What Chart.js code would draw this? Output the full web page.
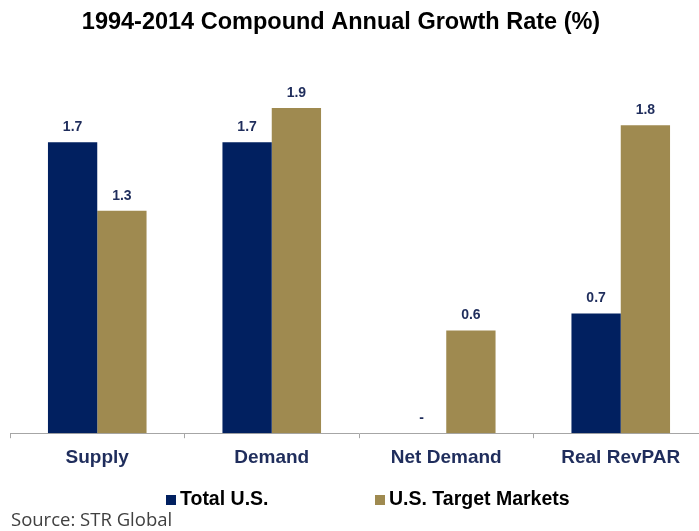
<!DOCTYPE html>
<html>
<head>
<meta charset="utf-8">
<script src="https://cdn.jsdelivr.net/npm/chart.js@4/dist/chart.umd.min.js"></script>
<style>
  html, body { margin: 0; padding: 0; background: #fff; }
  #wrap { width: 699px; height: 531px; overflow: hidden; position: relative; }
  canvas { display: block; }
</style>
</head>
<body>
<div id="wrap"><canvas id="chart" width="708" height="531"></canvas></div>
<script>
const title = "1994-2014 Compound Annual Growth Rate (%)";
const categories = ["Supply", "Demand", "Net Demand", "Real RevPAR"];
const totalUS = [1.7, 1.7, 0, 0.7];
const targetMarkets = [1.3, 1.9, 0.6, 1.8];
const seriesNames = ["Total U.S.", "U.S. Target Markets"];
const source = "Source: STR Global";

const NAVY = "#012060";
const TAN = "#9F8A50";
const FONT = "'Liberation Sans', Arial, sans-serif";

// value labels above each bar, "-" for zero
const barLabels = {
    id: "barLabels",
    afterDatasetsDraw(chart) {
        const ctx = chart.ctx;
        ctx.save();
        ctx.font = "bold 14px " + FONT;
        ctx.fillStyle = "#1F2D5C";
        ctx.textAlign = "center";
        ctx.textBaseline = "middle";
        chart.data.datasets.forEach((ds, i) => {
            chart.getDatasetMeta(i).data.forEach((bar, j) => {
                const v = ds.data[j];
                const text = v === 0 ? "-" : v.toFixed(1);
                ctx.fillText(text, bar.x, bar.y - 15);
            });
        });
        ctx.restore();
    },
};

// title, legend and source note
const decorations = {
    id: "decorations",
    afterDraw(chart) {
        const ctx = chart.ctx;
        ctx.save();
        ctx.textBaseline = "middle";
        ctx.textAlign = "center";
        ctx.fillStyle = "#000";
        ctx.font = "bold 23.5px " + FONT;
        ctx.fillText(title, 341, 23);

        const legendX = [166, 375];
        ctx.textAlign = "left";
        ctx.font = "bold 19.5px " + FONT;
        chart.data.datasets.forEach((ds, i) => {
            ctx.fillStyle = ds.backgroundColor;
            ctx.fillRect(legendX[i], 495, 10, 10);
            ctx.fillStyle = "#000";
            ctx.fillText(ds.label, legendX[i] + 14, 500);
        });

        ctx.fillStyle = "#404040";
        ctx.font = "18.5px 'Open Sans', sans-serif";
        ctx.fillText(source, 11, 521);
        ctx.restore();
    },
};

new Chart(document.getElementById("chart"), {
    type: "bar",
    data: {
        labels: categories,
        datasets: [
            { label: seriesNames[0], data: totalUS, backgroundColor: NAVY },
            { label: seriesNames[1], data: targetMarkets, backgroundColor: TAN },
        ],
    },
    options: {
        responsive: false,
        animation: false,
        devicePixelRatio: 1,
        layout: { padding: { left: 10, right: 0, top: 91, bottom: 54 } },
        datasets: { bar: { categoryPercentage: 0.565, barPercentage: 1 } },
        plugins: {
            legend: { display: false },
            title: { display: false },
            tooltip: { enabled: false },
        },
        scales: {
            x: {
                border: { color: "#A6A6A6", width: 1 },
                grid: { drawOnChartArea: false, drawTicks: true, tickLength: 5, color: "#A6A6A6" },
                ticks: {
                    color: "#1F2D5C",
                    padding: 8,
                    font: { family: FONT, size: 19, weight: "bold" },
                },
            },
            y: { display: false, min: 0, max: 2 },
        },
    },
    plugins: [barLabels, decorations],
});
</script>
</body>
</html>
